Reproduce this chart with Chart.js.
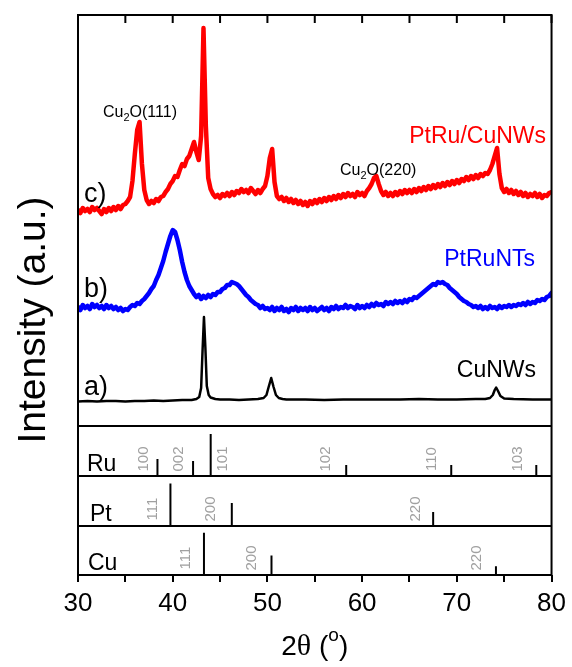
<!DOCTYPE html>
<html lang="en">
<head>
    <meta charset="UTF-8">
    <title>XRD patterns - PtRu/CuNWs</title>
    <script src="https://cdn.jsdelivr.net/npm/chart.js"></script>
    <style>
        body { margin: 0; background: #fff; }
        #xrdChart { display: block; }
    </style>
</head>
<body>
    <canvas id="xrdChart" width="572" height="667"></canvas>

    <script>
        // scan grid (2theta, degrees): start and step of the measured points
        const thetaStart = 30;
        const thetaStep = 0.25;

        // c) PtRu/CuNWs (a.u., offset included)
        const redCounts = [
            216,213,218,215,217,214,219,216,218,215,212,217,214,218,215,219,216,220,217,221,
            222,225,229,245,272,296,304,262,236,226,222,225,223,227,225,229,230,234,237,242,
            245,250,249,256,262,260,267,270,277,284,274,266,290,398,300,248,237,232,229,231,
            228,232,230,233,230,234,231,235,233,237,234,236,233,238,235,232,236,233,237,240,
            250,268,277,244,230,227,229,225,228,224,227,223,226,222,225,221,224,220,225,222,
            226,223,227,224,228,225,229,226,230,227,231,228,232,229,233,230,232,229,234,231,
            233,230,235,238,242,248,250,242,235,231,234,230,233,230,234,231,235,232,236,233,
            236,233,237,234,238,235,239,236,240,237,241,238,242,239,243,240,244,241,245,242,
            246,243,247,245,249,246,250,247,251,248,252,250,253,252,256,262,270,278,252,238,
            234,237,233,236,232,235,231,234,230,233,229,232,230,233,229,232,228,231,230,233,
            234
        ];

        // b) PtRuNTs
        const blueCounts = [
            119,116,121,118,120,117,122,119,121,118,120,117,121,118,120,117,119,116,118,115,
            117,116,119,121,120,123,122,125,127,130,133,137,140,146,151,158,165,174,182,190,
            196,194,186,176,164,154,146,140,136,132,129,131,127,130,128,131,129,132,131,134,
            134,137,138,141,141,144,143,142,140,137,134,131,129,126,124,122,121,118,120,117,
            118,116,119,115,118,116,119,115,117,114,118,116,119,115,118,116,118,115,119,116,
            118,115,117,119,116,118,115,119,117,120,117,119,118,121,118,120,119,117,121,118,
            120,118,121,119,122,120,123,121,122,120,124,122,124,122,125,123,125,123,126,124,
            127,126,129,128,130,132,134,136,138,140,142,141,144,143,144,142,141,138,136,134,
            132,129,127,125,124,122,121,119,120,118,120,117,119,117,120,118,119,117,120,118,
            120,119,121,119,121,120,122,121,123,121,124,122,124,123,126,125,127,126,129,130,
            133
        ];

        // a) CuNWs (smooth, sharp peaks) as [2theta, intensity]
        const blackScan = [
            [30,24.5],[31,25],[32,24.5],[33,25],[34,25],[35,24.5],[36,25],[37,25],[38,25.5],
            [39,25],[40,25.5],[41,26],[42,26],[42.5,27],[42.8,29],[43.0,38],[43.15,75],
            [43.3,109],[43.45,78],[43.6,40],[43.8,31],[44.0,28.5],[44.5,27],[45,26.5],
            [46,26.5],[47,26],[48,26.5],[49,27],[49.6,28],[49.9,31],[50.1,38],[50.4,48],
            [50.65,39],[50.9,31],[51.2,28],[51.6,27],[52,26.5],[54,26.5],[56,26],[58,26.5],
            [60,26.5],[62,26.5],[64,26.5],[66,27],[68,26.5],[70,26.5],[72,27],[73,27],
            [73.5,28],[73.8,31],[74.0,36],[74.15,38.5],[74.35,35],[74.6,30],[75,27.5],
            [76,27],[78,26.5],[80,26.5]
        ];

        // reference patterns: peak positions, relative intensity (%), hkl
        const ruPeaks = [38.39, 42.15, 44.01, 58.32, 69.41, 78.39];
        const ruRel = [34, 30, 84, 22, 22, 22];
        const ruHkl = ['100', '002', '101', '102', '110', '103'];

        const ptPeaks = [39.76, 46.24, 67.50];
        const ptRel = [85, 46, 28];
        const ptHkl = ['111', '200', '220'];

        const cuPeaks = [43.30, 50.43, 74.13];
        const cuRel = [86, 40, 18];
        const cuHkl = ['111', '200', '220'];

        const xTicks = [30, 40, 50, 60, 70, 80];

        Chart.defaults.font.family = "'Liberation Sans', Arial, sans-serif";
        Chart.defaults.color = '#000';

        function toScan(values) {
            return values.map((v, i) => ({ x: thetaStart + i * thetaStep, y: v }));
        }

        function toSticks(peaks, rel) {
            const pts = [];
            peaks.forEach((p, i) => {
                pts.push({ x: p, y: 0 }, { x: p, y: rel[i] }, { x: p, y: null });
            });
            return pts;
        }

        function stickSet(peaks, rel, axis) {
            return {
                data: toSticks(peaks, rel),
                yAxisID: axis,
                borderColor: '#000',
                borderWidth: 2,
                pointRadius: 0,
                spanGaps: false
            };
        }

        // hkl label offsets from their stick (px), panel names
        const refPanels = [
            { axis: 'yRu', name: 'Ru', nameX: 87, peaks: ruPeaks, hkl: ruHkl, dx: [-14, -14, 12, -20, -19, -18] },
            { axis: 'yPt', name: 'Pt', nameX: 90, peaks: ptPeaks, hkl: ptHkl, dx: [-18, -21, -17] },
            { axis: 'yCu', name: 'Cu', nameX: 88, peaks: cuPeaks, hkl: cuHkl, dx: [-18, -20, -19] }
        ];

        const framePlugin = {
            id: 'frame',
            afterDatasetsDraw(chart) {
                const { ctx, chartArea: a, scales } = chart;
                ctx.save();
                ctx.strokeStyle = '#000';
                ctx.lineWidth = 2;
                ctx.strokeRect(a.left, a.top, a.right - a.left, a.bottom - a.top);
                ctx.beginPath();
                ['yRu', 'yPt', 'yCu'].forEach(id => {
                    const y = Math.round(scales[id].top);
                    ctx.moveTo(a.left, y);
                    ctx.lineTo(a.right, y);
                });
                // inward ticks on the top edge
                scales.x.ticks.forEach(t => {
                    const x = scales.x.getPixelForValue(t.value);
                    ctx.moveTo(x, a.top);
                    ctx.lineTo(x, a.top + 8);
                });
                ctx.stroke();

                // reference panels: name + rotated hkl labels
                refPanels.forEach(p => {
                    const s = scales[p.axis];
                    ctx.fillStyle = '#000';
                    ctx.font = "23px 'Liberation Sans', Arial, sans-serif";
                    ctx.textAlign = 'left';
                    ctx.textBaseline = 'alphabetic';
                    ctx.fillText(p.name, p.nameX, s.bottom - 5);
                    ctx.fillStyle = '#a0a0a0';
                    ctx.font = "15px 'Liberation Sans', Arial, sans-serif";
                    ctx.textAlign = 'center';
                    ctx.textBaseline = 'middle';
                    p.peaks.forEach((pk, i) => {
                        const x = scales.x.getPixelForValue(pk) + p.dx[i];
                        ctx.save();
                        ctx.translate(x, s.bottom - 17);
                        ctx.rotate(-Math.PI / 2);
                        ctx.fillText(p.hkl[i], 0, 0);
                        ctx.restore();
                    });
                });

                // trace labels
                ctx.textBaseline = 'alphabetic';
                ctx.font = "27px 'Liberation Sans', Arial, sans-serif";
                ctx.fillStyle = '#000';
                ctx.textAlign = 'left';
                ctx.fillText('c)', 84, 202);
                ctx.fillText('b)', 84, 297);
                ctx.fillText('a)', 84, 395);

                ctx.font = "23px 'Liberation Sans', Arial, sans-serif";
                ctx.textAlign = 'right';
                ctx.fillStyle = '#ff0000';
                ctx.fillText('PtRu/CuNWs', 546, 143);
                ctx.fillStyle = '#0000ff';
                ctx.fillText('PtRuNTs', 535, 266);
                ctx.fillStyle = '#000';
                ctx.fillText('CuNWs', 536, 377);

                // Cu2O annotations with subscript
                function cu2o(text, x, y) {
                    ctx.textAlign = 'left';
                    ctx.font = "16px 'Liberation Sans', Arial, sans-serif";
                    ctx.fillText('Cu', x, y);
                    let w = ctx.measureText('Cu').width;
                    ctx.font = "11px 'Liberation Sans', Arial, sans-serif";
                    ctx.fillText('2', x + w, y + 4);
                    w += ctx.measureText('2').width;
                    ctx.font = "16px 'Liberation Sans', Arial, sans-serif";
                    ctx.fillText('O' + text, x + w, y);
                }
                cu2o('(111)', 103, 117);
                cu2o('(220)', 340, 175);

                // axis titles
                ctx.save();
                ctx.font = "39px 'Liberation Sans', Arial, sans-serif";
                ctx.textAlign = 'center';
                ctx.translate(45, 320);
                ctx.rotate(-Math.PI / 2);
                ctx.fillText('Intensity (a.u.)', 0, 0);
                ctx.restore();

                const parts = [
                    { t: '2', f: "28px 'Liberation Sans', Arial, sans-serif", dy: 0 },
                    { t: '\u03B8', f: "30px 'Liberation Serif', 'Times New Roman', serif", dy: 0 },
                    { t: ' (', f: "28px 'Liberation Sans', Arial, sans-serif", dy: 0 },
                    { t: 'o', f: "19px 'Liberation Sans', Arial, sans-serif", dy: -14 },
                    { t: ')', f: "28px 'Liberation Sans', Arial, sans-serif", dy: 0 }
                ];
                let total = 0;
                parts.forEach(p => { ctx.font = p.f; p.w = ctx.measureText(p.t).width; total += p.w; });
                let px = (a.left + a.right) / 2 - total / 2;
                ctx.textAlign = 'left';
                parts.forEach(p => {
                    ctx.font = p.f;
                    ctx.fillText(p.t, px, 655 + p.dy);
                    px += p.w;
                });
                ctx.restore();
            }
        };

        const hiddenY = (weight, max) => ({
            type: 'linear',
            position: 'left',
            stack: 'xrd',
            stackWeight: weight,
            min: 0,
            max: max,
            display: true,
            grid: { display: false, drawTicks: false },
            border: { display: false },
            ticks: { display: false },
            afterFit(scale) { scale.width = 0; }
        });

        const scanStyle = { yAxisID: 'yMain', pointRadius: 0, borderJoinStyle: 'round', borderCapStyle: 'round' };

        new Chart(document.getElementById('xrdChart'), {
            type: 'line',
            data: {
                datasets: [
                    { ...scanStyle, data: blackScan.map(p => ({ x: p[0], y: p[1] })), borderColor: '#000', borderWidth: 2.5 },
                    { ...scanStyle, data: toScan(blueCounts), borderColor: '#0000ff', borderWidth: 4.5 },
                    { ...scanStyle, data: toScan(redCounts), borderColor: '#ff0000', borderWidth: 4.5 },
                    stickSet(ruPeaks, ruRel, 'yRu'),
                    stickSet(ptPeaks, ptRel, 'yPt'),
                    stickSet(cuPeaks, cuRel, 'yCu')
                ]
            },
            options: {
                responsive: false,
                animation: false,
                events: [],
                layout: { padding: { left: 78, right: 18, top: 15, bottom: 0 } },
                plugins: { legend: { display: false }, tooltip: { enabled: false } },
                scales: {
                    x: {
                        type: 'linear',
                        position: 'bottom',
                        min: 30,
                        max: 80,
                        border: { display: false },
                        grid: { drawOnChartArea: false, drawTicks: true, tickLength: 7, color: '#000', lineWidth: 2 },
                        ticks: {
                            stepSize: 5,
                            autoSkip: false,
                            maxRotation: 0,
                            padding: 6,
                            font: { size: 26 },
                            color: '#000',
                            callback: v => (xTicks.includes(v) ? v : '')
                        },
                        afterFit(scale) { scale.height = 92; }
                    },
                    yCu: hiddenY(49, 100),
                    yPt: hiddenY(50, 100),
                    yRu: hiddenY(50, 100),
                    yMain: hiddenY(411, 411)
                }
            },
            plugins: [framePlugin]
        });
    </script>
</body>
</html>
